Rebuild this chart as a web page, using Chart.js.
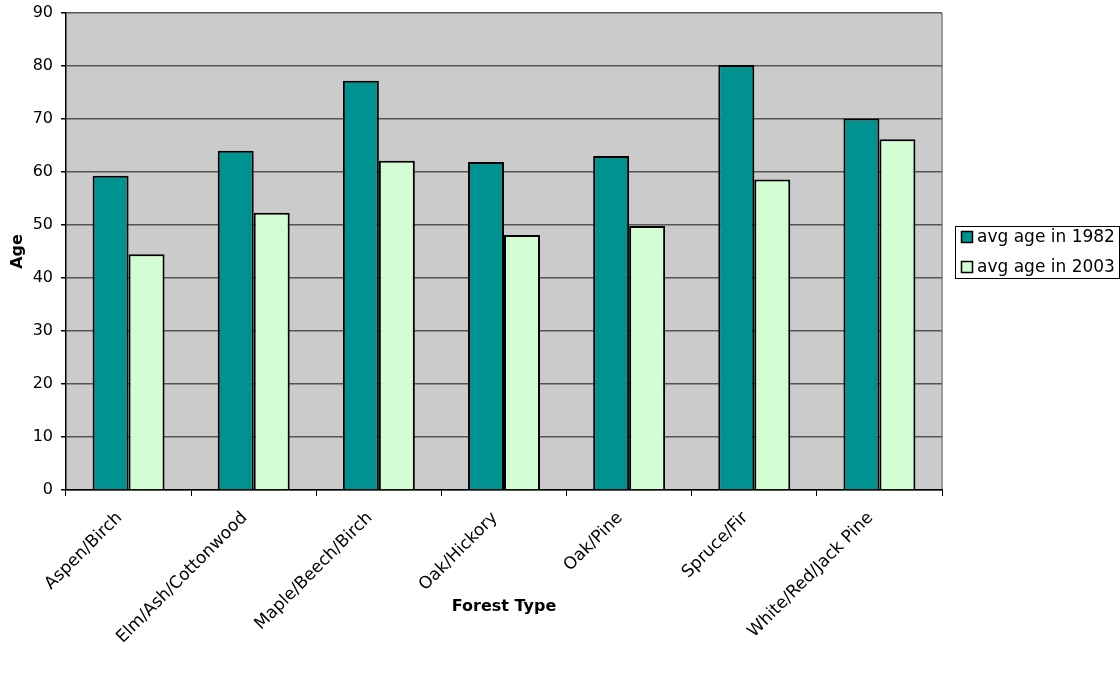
<!DOCTYPE html>
<html>
<head>
<meta charset="utf-8">
<script src="https://cdn.jsdelivr.net/npm/chart.js@4.4.0/dist/chart.umd.min.js"></script>
<style>
  html, body { margin: 0; padding: 0; background: #ffffff; }
  #wrap { width: 1120px; height: 679px; position: relative; }
</style>
</head>
<body>
<div id="wrap"><canvas id="chart" width="1120" height="679"></canvas></div>
<script>
// Forest types and average stand age (years)
const forestTypes = ['Aspen/Birch', 'Elm/Ash/Cottonwood', 'Maple/Beech/Birch', 'Oak/Hickory', 'Oak/Pine', 'Spruce/Fir', 'White/Red/Jack Pine'];
const age1982 = [59.3, 64.0, 77.2, 61.9, 63.0, 80.2, 70.1];
const age2003 = [44.5, 52.3, 62.1, 48.1, 49.8, 58.6, 66.2];
const seriesNames = ['avg age in 1982', 'avg age in 2003'];
const yTicks = [0, 10, 20, 30, 40, 50, 60, 70, 80, 90];

const FONT = "'DejaVu Sans', Verdana, sans-serif";

// Grey plot background with a light border on the right
const plotBackground = {
  id: 'plotBackground',
  beforeDraw(chart) {
    const { ctx, chartArea: a } = chart;
    ctx.save();
    ctx.fillStyle = '#cbcbcb';
    ctx.fillRect(a.left, a.top, a.right - a.left, a.bottom - a.top);
    ctx.strokeStyle = '#9a9a9a';
    ctx.lineWidth = 2;
    ctx.beginPath();
    ctx.moveTo(a.right, a.top);
    ctx.lineTo(a.right, a.bottom);
    ctx.stroke();
    ctx.restore();
  }
};

// Boxed legend to the right of the plot, centred on the plot height
const sideLegend = {
  id: 'sideLegend',
  afterDraw(chart) {
    const { ctx, chartArea: a } = chart;
    const sets = chart.data.datasets;
    const rowGap = 30;
    const boxW = 164, boxH = 52;
    const left = a.right + 13;
    const mid = (a.top + a.bottom) / 2;
    const top = mid - boxH / 2;
    ctx.save();
    ctx.strokeStyle = '#000000';
    ctx.lineWidth = 1;
    ctx.strokeRect(Math.round(left) + 0.5, Math.round(top) + 0.5, boxW, boxH);
    ctx.font = '17px ' + FONT;
    ctx.textBaseline = 'middle';
    ctx.textAlign = 'left';
    sets.forEach((ds, i) => {
      const cy = mid + (i - (sets.length - 1) / 2) * rowGap;
      const sx = Math.round(left) + 6;
      const sy = Math.round(cy - 6);
      ctx.fillStyle = ds.backgroundColor;
      ctx.fillRect(sx, sy, 12, 12);
      ctx.strokeStyle = '#000000';
      ctx.lineWidth = 1.5;
      ctx.strokeRect(sx + 0.5, sy + 0.5, 11, 11);
      ctx.fillStyle = '#000000';
      ctx.fillText(ds.label, sx + 16, cy + 1);
    });
    ctx.restore();
  }
};

new Chart(document.getElementById('chart'), {
  type: 'bar',
  data: {
    labels: forestTypes,
    datasets: [
      { label: seriesNames[0], data: age1982, backgroundColor: '#009191', borderColor: '#000000', borderWidth: 2 },
      { label: seriesNames[1], data: age2003, backgroundColor: '#d3fdd3', borderColor: '#000000', borderWidth: 2 }
    ]
  },
  options: {
    responsive: false,
    animation: false,
    layout: { padding: { top: 13, right: 178, bottom: 0, left: 0 } },
    datasets: { bar: { categoryPercentage: 0.575, barPercentage: 1.0 } },
    plugins: {
      legend: { display: false },
      tooltip: { enabled: false }
    },
    scales: {
      x: {
        grid: { offset: true, drawOnChartArea: false, drawTicks: true, tickLength: 6, color: '#000000' },
        border: { display: true, color: '#000000', width: 1.5 },
        ticks: { font: { family: FONT, size: 17 }, color: '#000000', minRotation: 45, maxRotation: 45, padding: 12, labelOffset: -9, autoSkip: false },
        title: { display: true, text: 'Forest Type', font: { family: FONT, size: 16, weight: 'bold' }, color: '#000000', padding: { top: 0, bottom: 63 } },
        afterFit(scale) { scale.height = 189; scale.paddingLeft = 0; scale.paddingRight = 0; }
      },
      y: {
        min: 0,
        max: 90,
        afterBuildTicks(scale) { scale.ticks = yTicks.map(v => ({ value: v })); },
        grid: { color: '#555555', lineWidth: 1.5, tickLength: 5, tickColor: '#000000', drawTicks: true },
        border: { display: true, color: '#000000', width: 1.5 },
        ticks: { font: { family: FONT, size: 16 }, color: '#000000', padding: 8 },
        title: { display: true, text: 'Age', font: { family: FONT, size: 16, weight: 'bold' }, color: '#000000', padding: { top: 8, bottom: 0 } },
        afterFit(scale) { scale.width = 66; scale.paddingTop = 0; scale.paddingBottom = 0; }
      }
    }
  },
  plugins: [plotBackground, sideLegend]
});
</script>
</body>
</html>
